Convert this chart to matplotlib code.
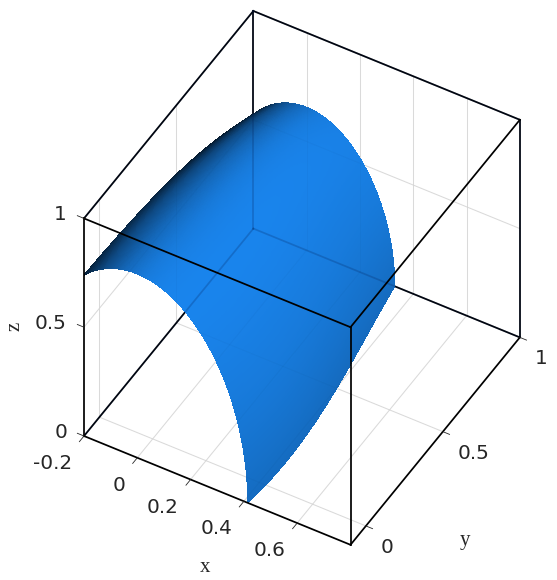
import numpy as np
import matplotlib
matplotlib.use("Agg")
import matplotlib.pyplot as plt
from mpl_toolkits.mplot3d import proj3d

# values
y_samples = [-0.10, 0.18, 0.50, 0.82, 1.00]
half_width = [0.414, 0.428, 0.400, 0.357, 0.330]   # x where the surface reaches z=0
crest = [0.846, 0.814, 0.794, 0.715, 0.660]        # peak height of each section
x_ticks = [-0.2, 0, 0.2, 0.4, 0.6]
x_tick_labels = ["-0.2", "0", "0.2", "0.4", "0.6"]
y_ticks = [0, 0.5, 1]
y_tick_labels = ["0", "0.5", "1"]
z_ticks = [0, 0.5, 1]
z_tick_labels = ["0", "0.5", "1"]
x_lim = (-0.2, 0.8)
y_lim = (-0.1, 1.0)
z_lim = (0.0, 1.0)
base_color = np.array([0.10, 0.52, 0.93])
box = (308, 339, 308)

W, H = 557, 580
fig = plt.figure(figsize=(W / 100, H / 100), dpi=100)
ax = fig.add_axes([0, 0, 1, 1], projection="3d", proj_type="ortho", computed_zorder=False)
ax.view_init(elev=45, azim=-60)
ax.set_xlim(*x_lim); ax.set_ylim(*y_lim); ax.set_zlim(*z_lim)
ax.set_box_aspect(box)
ax.set_axis_off()

# place the box: match two reference corners
def px(p):
    a, b, _ = proj3d.proj_transform(p[0], p[1], p[2], ax.get_proj())
    return ax.transData.transform((a, b))
c0 = (-0.2, -0.1, 0.0); c1 = (0.8, 1.0, 0.0)
t0 = np.array([84, H - 436.0]); t1 = np.array([520, H - 338.0])
fig.canvas.draw()
s = np.linalg.norm(t1 - t0) / np.linalg.norm(px(c1) - px(c0))
ax.set_box_aspect(box, zoom=s)
fig.canvas.draw()
d = t0 - px(c0)
ax.set_position([d[0] / W, d[1] / H, 1, 1])
fig.canvas.draw()

# surface
yy = np.linspace(y_lim[0], y_lim[1], 220)
r = np.polyval(np.polyfit(y_samples, half_width, 3), yy)
h = np.polyval(np.polyfit(y_samples, crest, 3), yy)
frac = np.linspace(0, 1, 220)
t_start = np.arccos(x_lim[0] / r)
T = np.outer(t_start, frac)
X = r[:, None] * np.cos(T)
Y = np.repeat(yy[:, None], frac.size, axis=1)
Z = h[:, None] * np.sin(T)

# lighting computed in box units
sx, sy, sz = box[0] / 1.0, box[1] / 1.1, box[2] / 1.0
du = np.stack([np.gradient(X * sx, axis=0), np.gradient(Y * sy, axis=0), np.gradient(Z * sz, axis=0)], -1)
dv = np.stack([np.gradient(X * sx, axis=1), np.gradient(Y * sy, axis=1), np.gradient(Z * sz, axis=1)], -1)
n = np.cross(du, dv)
n /= np.linalg.norm(n, axis=-1, keepdims=True) + 1e-12
n *= np.sign(n[..., 2] + 1e-9)[..., None]
L = np.array([0.65, -0.05, 0.76]); L = L / np.linalg.norm(L)
I = np.interp(n @ L, [0.0, 0.3, 0.6, 0.83, 1.0], [0.2, 0.55, 0.78, 0.92, 1.0])
colors = np.dstack([base_color[0] * I, base_color[1] * I, base_color[2] * I, np.ones(I.shape)])
colors = np.clip(colors, 0, 1)

xa, xb = x_lim; ya, yb = y_lim; za, zb = z_lim
grid_segments = []
for v in x_ticks[1:]:
    grid_segments += [((v, v), (ya, yb), (za, za)), ((v, v), (yb, yb), (za, zb))]
for v in y_ticks[:-1]:
    grid_segments += [((xa, xb), (v, v), (za, za)), ((xa, xa), (v, v), (za, zb))]
for v in z_ticks[1:-1]:
    grid_segments += [((xa, xa), (ya, yb), (v, v)), ((xa, xb), (yb, yb), (v, v))]
rear_edges = [((xa, xa), (ya, yb), (za, za)), ((xa, xb), (yb, yb), (za, za)), ((xa, xa), (yb, yb), (za, zb)),
              ((xa, xa), (ya, yb), (zb, zb)), ((xa, xb), (yb, yb), (zb, zb)), ((xb, xb), (yb, yb), (za, zb))]
front_edges = [((xa, xb), (ya, ya), (zb, zb)), ((xb, xb), (ya, yb), (zb, zb)), ((xb, xb), (ya, ya), (za, zb)),
               ((xa, xb), (ya, ya), (za, za)), ((xb, xb), (ya, yb), (za, za)), ((xa, xa), (ya, ya), (za, zb))]

bk = dict(color="black", lw=1.25, solid_capstyle="projecting")
for seg in grid_segments:
    ax.plot(*seg, color="0.88", lw=0.75, zorder=1)
for seg in rear_edges:
    ax.plot(*seg, zorder=2, **bk)

ax.plot_surface(X, Y, Z, facecolors=colors, rstride=1, cstride=1, shade=False,
                linewidth=0, antialiased=False, zorder=3)

# the surface is slightly see-through in the reference: rear lines show faintly
for seg in grid_segments:
    ax.plot(*seg, color="black", alpha=0.025, lw=0.75, zorder=3.5)
for seg in rear_edges:
    ax.plot(*seg, color="#001a50", alpha=0.22, lw=1.25, zorder=3.5)
for seg in front_edges:
    ax.plot(*seg, zorder=4, **bk)

tk = dict(color="0.15", lw=0.6, zorder=4)
for v in x_ticks:
    ax.plot([v, v], [ya, ya - 0.03], [za, za], **tk)
for v in y_ticks:
    ax.plot([xb, xb + 0.025], [v, v], [za, za], **tk)
for v in z_ticks:
    ax.plot([xa, xa - 0.025], [ya, ya], [v, v], **tk)

fs = 14.4
def label(p, s_, dx, dy, ha):
    q = px(p)
    fig.text((q[0] + dx) / W, (q[1] + dy) / H, s_, ha=ha, va="center", fontsize=fs,
             color="0.15", family="DejaVu Sans")
for v, s_ in zip(x_ticks, x_tick_labels):
    label((v, ya, za), s_, -12, -27.5, "right")
for v, s_ in zip(y_ticks, y_tick_labels):
    label((xb, v, za), s_, 15, -21.5, "left")
for v, s_ in zip(z_ticks, z_tick_labels):
    label((xa, ya, v), s_, -17, 3.5, "right")

lk = dict(family="Liberation Serif", fontsize=15, color="0.15", ha="center", va="center")
fig.text(205 / W, 1 - 567 / H, "x", **lk)
fig.text(465 / W, 1 - 541 / H, "y", **lk)
fig.text(15 / W, 1 - 326 / H, "z", rotation=90, **lk)

fig.savefig("out.png", dpi=100)
